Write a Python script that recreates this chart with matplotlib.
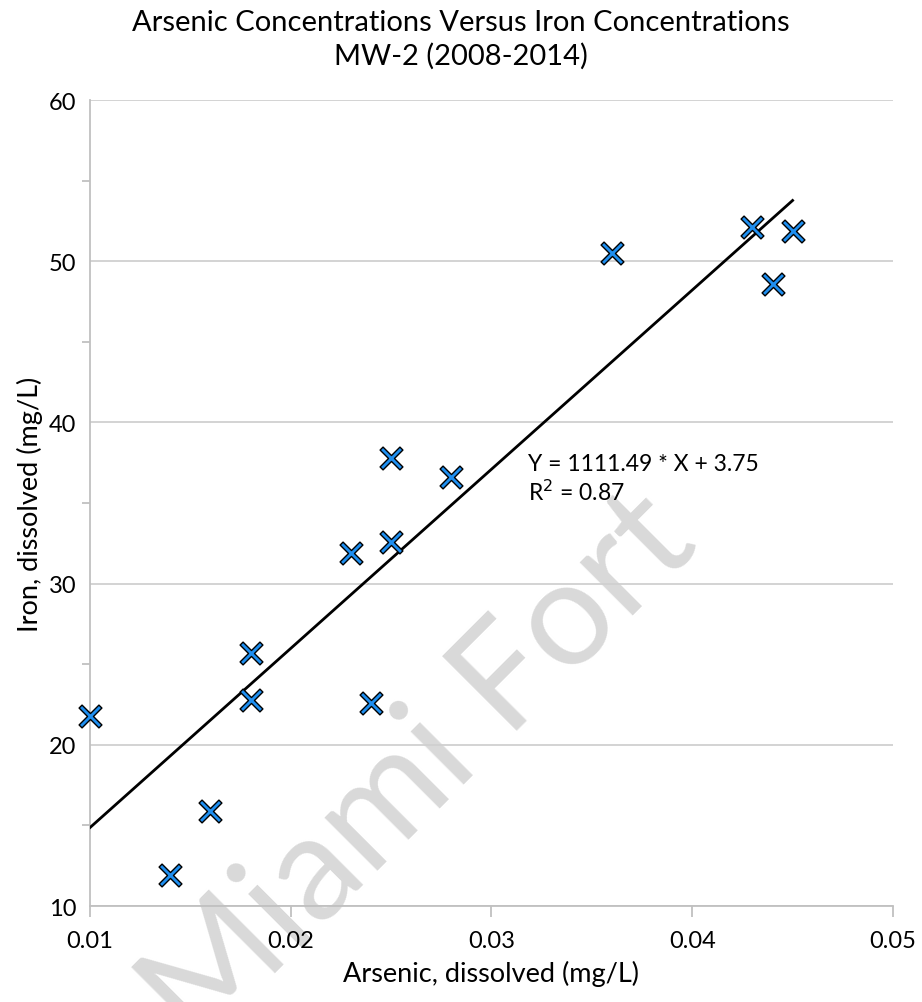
import numpy as np
import matplotlib.pyplot as plt
from matplotlib.path import Path

plt.rcParams['font.family'] = ['Lato', 'DejaVu Sans']

# arsenic vs iron, MW-2 (2008-2014)
arsenic = [0.010, 0.014, 0.016, 0.018, 0.018, 0.023, 0.024, 0.025, 0.025, 0.028, 0.036, 0.043, 0.044, 0.045]
iron = [21.8, 11.9, 15.9, 25.7, 22.8, 31.9, 22.6, 37.8, 32.6, 36.6, 50.5, 52.1, 48.6, 51.9]

slope = 1111.49
intercept = 3.75
r2 = 0.87

# thin-armed X marker like the Excel one
w = 0.13
r = 0.5
xmark = Path([(-r, -r + w), (-w, 0), (-r, r - w), (-r + w, r), (0, w), (r - w, r),
              (r, r - w), (w, 0), (r, -r + w), (r - w, -r), (0, -w), (-r + w, -r),
              (-r, -r + w)], closed=True)

fig = plt.figure(figsize=(9.22, 10.03), dpi=100)
ax = fig.add_axes([0.0976, 0.0957, 0.8709, 0.8036])

ax.set_xlim(0.01, 0.05)
ax.set_ylim(10, 60)
ax.set_xticks([0.01, 0.02, 0.03, 0.04, 0.05])
ax.set_xticklabels(['0.01', '0.02', '0.03', '0.04', '0.05'])
ax.set_yticks([10, 20, 30, 40, 50, 60])
ax.set_yticks([15, 25, 35, 45, 55], minor=True)

ax.grid(axis='y', which='major', color='#d0d0d0', linewidth=1.3)
ax.set_axisbelow(True)
for s in ['top', 'right']:
    ax.spines[s].set_visible(False)
for s in ['left', 'bottom']:
    ax.spines[s].set_color('#c0c0c0')
    ax.spines[s].set_linewidth(1.3)
ax.tick_params(axis='y', which='both', direction='in', length=0, pad=10, labelsize=17)
ax.tick_params(axis='y', which='minor', direction='out', length=6, color='#c0c0c0', width=1.3)
ax.tick_params(axis='x', direction='out', length=8, color='#c0c0c0', width=1.3, pad=9, labelsize=17)

# watermark
ax.text(0.41, 0.17, 'Miami Fort', transform=ax.transAxes, rotation=45,
        fontsize=106, color='#d9d9d9', ha='center', va='center',
        zorder=0.5, clip_on=False)

xfit = np.array([min(arsenic), max(arsenic)])
ax.plot(xfit, slope * xfit + intercept, color='black', linewidth=2, zorder=3)

ax.scatter(arsenic, iron, marker=xmark, s=270, color='#1f8ff0',
           edgecolors='black', linewidths=1.0, zorder=4, clip_on=False)

ax.text(0.0318, 38.1, f'Y = {slope} * X + {intercept}\nR$^2$ = {r2}',
        fontsize=16.5, linespacing=1.2, va='top', ha='left')

ax.set_xlabel('Arsenic, dissolved (mg/L)', fontsize=19.5, labelpad=7)
ax.set_ylabel('Iron, dissolved (mg/L)', fontsize=19.5, labelpad=4)
fig.suptitle('Arsenic Concentrations Versus Iron Concentrations\nMW-2 (2008-2014)',
             fontsize=21, y=0.99, linespacing=1.3)

fig.savefig('out.png', dpi=100)
